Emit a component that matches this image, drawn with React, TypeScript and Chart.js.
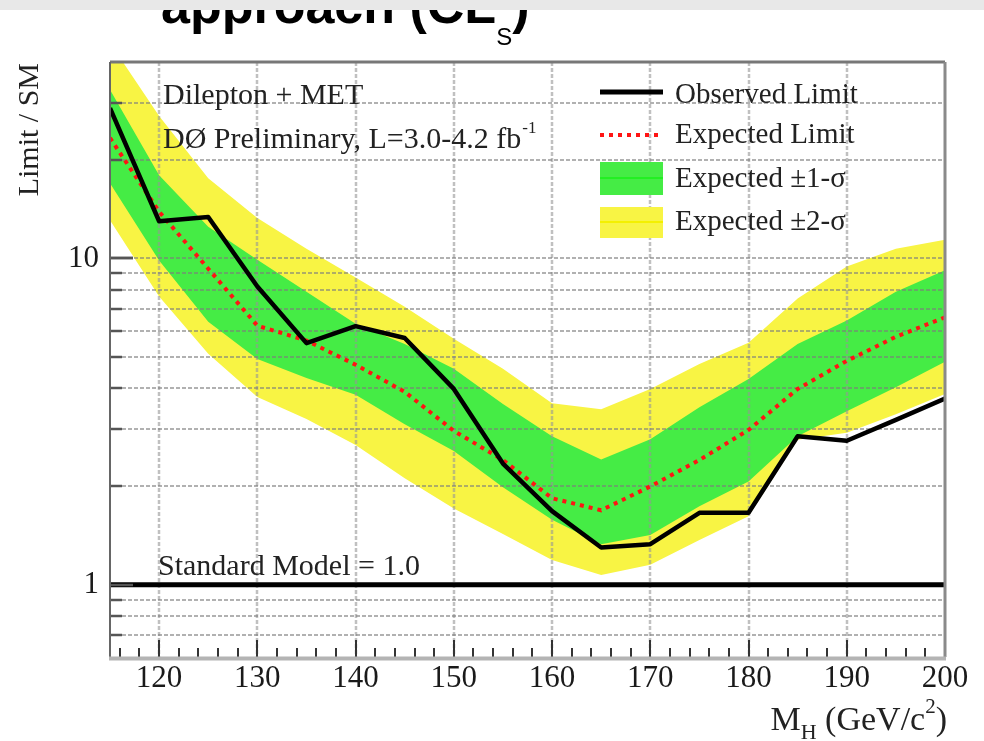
import React, { useEffect, useRef } from 'react';
import { Chart, registerables } from 'chart.js';

Chart.register(...registerables);

// ---------------- data ----------------
const masses = [115, 120, 125, 130, 135, 140, 145, 150, 155, 160, 165, 170, 175, 180, 185, 190, 195, 200];
const observedLimit = [28.9, 13.0, 13.4, 8.2, 5.5, 6.2, 5.7, 3.98, 2.35, 1.68, 1.3, 1.33, 1.66, 1.66, 2.85, 2.76, 3.2, 3.72];
const expectedLimit = [23.4, 13.9, 9.3, 6.22, 5.6, 4.72, 3.9, 2.96, 2.41, 1.84, 1.69, 2.0, 2.41, 2.98, 3.98, 4.85, 5.75, 6.6];
const sigma1Up = [32.9, 18.0, 12.5, 9.9, 7.9, 6.3, 5.47, 4.59, 3.58, 2.85, 2.42, 2.79, 3.5, 4.27, 5.47, 6.45, 7.9, 9.2];
const sigma1Down = [17.0, 9.86, 6.4, 4.92, 4.3, 3.82, 3.1, 2.57, 1.99, 1.58, 1.33, 1.42, 1.74, 2.07, 2.85, 3.4, 4.03, 4.82];
const sigma2Up = [45.8, 27.3, 17.6, 13.3, 10.7, 8.74, 7.11, 5.67, 4.59, 3.6, 3.45, 3.98, 4.75, 5.51, 7.53, 9.45, 10.7, 11.4];
const sigma2Down = [13.1, 7.64, 5.1, 3.76, 3.22, 2.68, 2.12, 1.71, 1.43, 1.19, 1.07, 1.15, 1.37, 1.62, 2.78, 2.92, 3.33, 3.84];
const smLevel = 1.0;

const xRange = [115, 200];
const yRange = [0.6, 40];
const xLabelValues = [120, 130, 140, 150, 160, 170, 180, 190, 200];
const xGridValues = [120, 130, 140, 150, 160, 170, 180, 190];
const xMinorStep = 2;
const yLabelValues = [1, 10];
const yGridValues = [0.7, 0.8, 0.9, 2, 3, 4, 5, 6, 7, 8, 9, 10, 20, 30];

const legendLabels = ['Observed Limit', 'Expected Limit', 'Expected \u00b11-\u03c3', 'Expected \u00b12-\u03c3'];
const infoLines = ['Dilepton + MET', 'D\u00d8 Preliminary, L=3.0-4.2 fb'];
const lumiSup = '-1';
const smText = 'Standard Model = 1.0';
const yTitle = 'Limit / SM';
const titleMain = 'approach (CL';
const titleSub = 'S';
const titleEnd = ')';

// ---------------- styles ----------------
const GREEN = '#45ec45';
const GREEN_LINE = '#22f022';
const YELLOW = '#f8f444';
const YELLOW_LINE = '#f4f000';
const RED = '#ff1414';
const SERIF = '"Liberation Serif", "Times New Roman", serif';
const SANS = '"Liberation Sans", Arial, sans-serif';

const pts = (vals: number[]) => masses.map((m, i) => ({ x: m, y: vals[i] }));

function drawGrid(chart: any) {
  const { ctx, chartArea: a, scales } = chart;
  const x = scales.x;
  const y = scales.y;
  ctx.save();
  ctx.beginPath();
  ctx.rect(a.left, a.top, a.right - a.left, a.bottom - a.top);
  ctx.clip();
  ctx.setLineDash([4, 2]);
  ctx.strokeStyle = 'rgba(150,150,150,0.6)';
  ctx.lineWidth = 2.5;
  for (const v of xGridValues) {
    const px = Math.round(x.getPixelForValue(v));
    ctx.beginPath();
    ctx.moveTo(px, a.top);
    ctx.lineTo(px, a.bottom);
    ctx.stroke();
  }
  ctx.strokeStyle = 'rgba(125,125,125,0.6)';
  ctx.lineWidth = 2;
  for (const v of yGridValues) {
    const py = Math.round(y.getPixelForValue(v));
    ctx.beginPath();
    ctx.moveTo(a.left, py);
    ctx.lineTo(a.right, py);
    ctx.stroke();
  }
  ctx.restore();
}

function drawDecor(chart: any) {
  const { ctx, chartArea: a, scales } = chart;
  const x = scales.x;
  const y = scales.y;
  ctx.save();

  // tick marks (inside)
  ctx.strokeStyle = '#333';
  ctx.lineWidth = 2;
  for (let v = xRange[0] + 1; v < xRange[1]; v += xMinorStep) {
    const px = Math.round(x.getPixelForValue(v));
    const major = xGridValues.includes(v);
    ctx.beginPath();
    ctx.moveTo(px, a.bottom);
    ctx.lineTo(px, a.bottom - (major ? 17 : 9));
    ctx.stroke();
  }
  ctx.strokeStyle = '#555';
  ctx.lineWidth = 2.5;
  for (const v of [...yGridValues, ...yLabelValues]) {
    const py = Math.round(y.getPixelForValue(v));
    const major = yLabelValues.includes(v);
    ctx.beginPath();
    ctx.moveTo(a.left, py);
    ctx.lineTo(a.left + (major ? 23 : 12), py);
    ctx.stroke();
  }

  // frame
  ctx.lineWidth = 3;
  ctx.strokeStyle = '#777';
  ctx.beginPath();
  ctx.moveTo(a.left, a.top);
  ctx.lineTo(a.right, a.top);
  ctx.stroke();
  ctx.strokeStyle = '#8a8a8a';
  ctx.beginPath();
  ctx.moveTo(a.right, a.top);
  ctx.lineTo(a.right, a.bottom);
  ctx.stroke();
  ctx.lineWidth = 2;
  ctx.strokeStyle = '#666';
  ctx.beginPath();
  ctx.moveTo(a.left, a.top);
  ctx.lineTo(a.left, a.bottom + 3);
  ctx.stroke();
  ctx.lineWidth = 4;
  ctx.strokeStyle = '#b4b4b4';
  ctx.beginPath();
  ctx.moveTo(a.left - 1, a.bottom + 1.5);
  ctx.lineTo(a.right + 1, a.bottom + 1.5);
  ctx.stroke();

  // info texts
  ctx.fillStyle = '#222';
  ctx.textAlign = 'left';
  ctx.textBaseline = 'alphabetic';
  ctx.font = `30px ${SERIF}`;
  ctx.fillText(infoLines[0], 163, 104);
  ctx.fillText(infoLines[1], 163, 148);
  const w1 = ctx.measureText(infoLines[1]).width;
  ctx.font = `17px ${SERIF}`;
  ctx.fillText(lumiSup, 163 + w1 + 1, 133);
  ctx.font = `30px ${SERIF}`;
  ctx.fillText(smText, 158, 575);

  // legend
  const lx0 = 600;
  const lx1 = 663;
  ctx.setLineDash([]);
  ctx.strokeStyle = '#000';
  ctx.lineWidth = 5;
  ctx.beginPath();
  ctx.moveTo(lx0, 92);
  ctx.lineTo(lx1, 92);
  ctx.stroke();
  ctx.strokeStyle = RED;
  ctx.lineWidth = 4;
  ctx.setLineDash([4, 5]);
  ctx.beginPath();
  ctx.moveTo(lx0, 135);
  ctx.lineTo(lx1, 135);
  ctx.stroke();
  ctx.setLineDash([]);
  ctx.fillStyle = GREEN;
  ctx.fillRect(lx0, 162, lx1 - lx0, 33);
  ctx.strokeStyle = GREEN_LINE;
  ctx.lineWidth = 2;
  ctx.beginPath();
  ctx.moveTo(lx0, 178);
  ctx.lineTo(lx1, 178);
  ctx.stroke();
  ctx.fillStyle = YELLOW;
  ctx.fillRect(lx0, 207, lx1 - lx0, 31);
  ctx.strokeStyle = YELLOW_LINE;
  ctx.beginPath();
  ctx.moveTo(lx0, 222);
  ctx.lineTo(lx1, 222);
  ctx.stroke();
  ctx.fillStyle = '#222';
  ctx.font = `29px ${SERIF}`;
  const lBase = [103, 143, 187, 230];
  legendLabels.forEach((t, i) => ctx.fillText(t, 675, lBase[i]));

  // y axis title
  ctx.save();
  ctx.translate(38, 63);
  ctx.rotate(-Math.PI / 2);
  ctx.textAlign = 'right';
  ctx.font = `30px ${SERIF}`;
  ctx.fillText(yTitle, 0, 0);
  ctx.restore();

  // x axis title: M_H (GeV/c^2)
  const parts: [string, number, number][] = [
    ['M', 34, 730],
    ['H', 22, 739],
    [' (GeV/c', 34, 730],
    ['2', 21, 713],
    [')', 34, 730],
  ];
  let total = 0;
  for (const [t, s] of parts) {
    ctx.font = `${s}px ${SERIF}`;
    total += ctx.measureText(t).width;
  }
  let cx = 947 - total;
  ctx.textAlign = 'left';
  for (const [t, s, b] of parts) {
    ctx.font = `${s}px ${SERIF}`;
    ctx.fillText(t, cx, b);
    cx += ctx.measureText(t).width;
  }

  // page title (cut off at top)
  ctx.fillStyle = '#000';
  ctx.font = `bold 52px ${SANS}`;
  ctx.fillText(titleMain, 161, 23);
  let tx = 161 + ctx.measureText(titleMain).width;
  ctx.font = `24px ${SANS}`;
  ctx.fillText(titleSub, tx, 45);
  tx += ctx.measureText(titleSub).width;
  ctx.font = `bold 52px ${SANS}`;
  ctx.fillText(titleEnd, tx, 23);
  ctx.fillStyle = '#e8e8e8';
  ctx.fillRect(0, 0, chart.width, 10);

  ctx.restore();
}

function makeRootPlugin() {
  let gridDrawn = false;
  return {
    id: 'rootStyle',
    beforeDatasetsDraw() {
      gridDrawn = false;
    },
    beforeDatasetDraw(chart: any, args: any) {
      if (gridDrawn) return;
      const ds = chart.data.datasets[args.index];
      if ((ds.order ?? 0) <= 2) {
        drawGrid(chart);
        gridDrawn = true;
      }
    },
    afterDraw(chart: any) {
      drawDecor(chart);
    },
  };
}

export default function App() {
  const ref = useRef<HTMLCanvasElement | null>(null);

  useEffect(() => {
    if (!ref.current) return;
    const band = (data: number[], color: string, fill: any, order: number) => ({
      data: pts(data),
      borderWidth: 0,
      borderColor: 'rgba(0,0,0,0)',
      backgroundColor: color,
      pointRadius: 0,
      fill,
      order,
      tension: 0,
    });
    const chart = new Chart(ref.current, {
      type: 'line',
      data: {
        datasets: [
          band(sigma2Up, YELLOW, '+1', 4),
          band(sigma2Down, YELLOW, false, 4),
          band(sigma1Up, GREEN, '+1', 3),
          band(sigma1Down, GREEN, false, 3),
          {
            data: [
              { x: xRange[0], y: smLevel },
              { x: xRange[1], y: smLevel },
            ],
            borderColor: '#000',
            borderWidth: 5,
            pointRadius: 0,
            fill: false,
            order: 2,
          },
          {
            data: pts(expectedLimit),
            borderColor: RED,
            borderWidth: 4,
            borderDash: [4, 5],
            pointRadius: 0,
            fill: false,
            order: 1,
            tension: 0,
          },
          {
            data: pts(observedLimit),
            borderColor: '#000',
            borderWidth: 4.5,
            pointRadius: 0,
            fill: false,
            order: 0,
            tension: 0,
            borderJoinStyle: 'round',
          },
        ] as any,
      },
      options: {
        responsive: false,
        animation: false,
        devicePixelRatio: 1,
        layout: { padding: { top: 62, right: 39, left: 0, bottom: 0 } },
        plugins: {
          legend: { display: false },
          tooltip: { enabled: false },
          title: { display: false },
        },
        scales: {
          x: {
            type: 'linear',
            min: xRange[0],
            max: xRange[1],
            position: 'bottom',
            grid: { display: false, drawTicks: false, tickLength: 0 },
            border: { display: false },
            ticks: {
              font: { family: 'Liberation Serif', size: 31 },
              color: '#1a1a1a',
              padding: 3,
              maxRotation: 0,
              minRotation: 0,
              autoSkip: false,
              callback: (v: any) => String(v),
            },
            afterBuildTicks: (s: any) => {
              s.ticks = xLabelValues.map((v) => ({ value: v }));
            },
            afterFit: (s: any) => {
              s.height = 84;
            },
          },
          y: {
            type: 'logarithmic',
            min: yRange[0],
            max: yRange[1],
            grid: { display: false, drawTicks: false, tickLength: 0 },
            border: { display: false },
            ticks: {
              font: { family: 'Liberation Serif', size: 31 },
              color: '#1a1a1a',
              padding: 11,
              autoSkip: false,
              callback: (v: any) => String(v),
            },
            afterBuildTicks: (s: any) => {
              s.ticks = yLabelValues.map((v) => ({ value: v }));
            },
            afterFit: (s: any) => {
              s.width = 110;
            },
          },
        },
      } as any,
      plugins: [makeRootPlugin()],
    });
    return () => chart.destroy();
  }, []);

  return (
    <div style={{ position: 'absolute', left: 0, top: 0, width: 984, height: 741, background: '#fff' }}>
      <canvas ref={ref} width={984} height={741} style={{ width: 984, height: 741, display: 'block' }} />
    </div>
  );
}
